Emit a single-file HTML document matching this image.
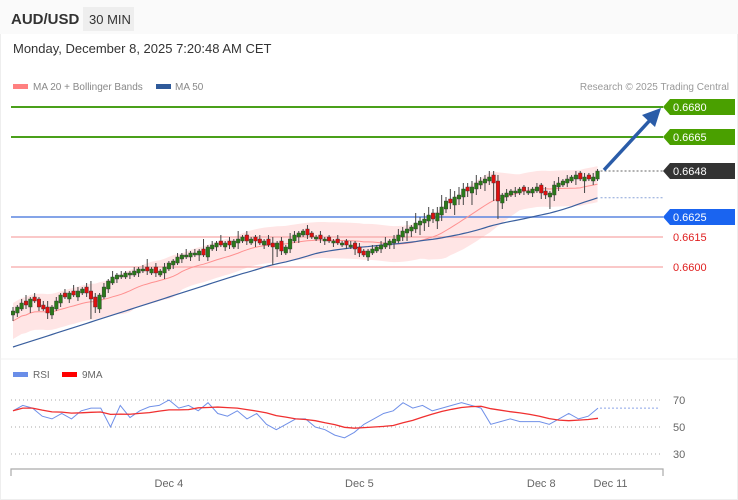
<!DOCTYPE html>
<html><head><meta charset="utf-8"><style>
body{margin:0;background:#fff;font-family:"Liberation Sans",sans-serif;}
#wrap{position:relative;width:738px;height:500px;overflow:hidden;background:#fff;}
svg text{font-family:"Liberation Sans",sans-serif;}
</style></head><body>
<div id="wrap">
<svg id="svg" width="738" height="500" xmlns="http://www.w3.org/2000/svg">
  <rect x="0.5" y="0.5" width="737" height="499" fill="#fff" stroke="#eee"/>
  <rect x="0" y="0" width="738" height="34" fill="#fafafa"/>
  <text x="11" y="24" font-size="15" font-weight="bold" fill="#333">AUD/USD</text>
  <rect x="83" y="7" width="51" height="24" fill="#eeeeee"/>
  <text x="89" y="24" font-size="13" fill="#333">30 MIN</text>
  <text x="13" y="53" font-size="13" fill="#333">Monday, December 8, 2025 7:20:48 AM CET</text>
  <rect x="13" y="84" width="15" height="5" fill="#ff8080"/>
  <text x="33" y="90" font-size="10" fill="#888">MA 20 + Bollinger Bands</text>
  <rect x="156" y="84" width="15" height="5" fill="#2f5a9a"/>
  <text x="175" y="90" font-size="10" fill="#888">MA 50</text>
  <text x="729" y="90" font-size="10" fill="#999" text-anchor="end">Research © 2025 Trading Central</text>
  <line x1="0" y1="359" x2="738" y2="359" stroke="#f0f0f0"/>
  <rect x="13" y="372" width="15" height="5" fill="#6a8ee8"/>
  <text x="33" y="378" font-size="10" fill="#666">RSI</text>
  <rect x="62" y="372" width="15" height="5" fill="#ff0000"/>
  <text x="82" y="378" font-size="10" fill="#666">9MA</text>
  <g id="price"></g>
  <g id="rsi"></g>
  <g id="axis"></g>
</svg>
</div>
<script>
// price closes in pips above 0.6500
const closes=[78,80,82,81,84,83,80,79,77,80,83,86,85,87,86,88,89,87,84,80,86,90,93,95,96,96,97,97,98,99,99,98,99,97,98,100,102,103,105,106,106,107,107,108,106,110,111,112,111,112,111,113,114,115,113,114,113,112,113,111,110,112,108,110,114,116,117,118,116,115,115,114,114,113,113,112,112,111,111,109,107,106,108,109,110,111,112,113,114,116,118,119,120,122,123,124,126,124,127,130,133,132,135,136,139,138,140,142,143,144,145,142,133,136,137,138,138,139,138,138,139,140,137,136,137,141,142,143,144,145,146,144,145,144,145,148];
const wickUp=[2,1,2,3,1,2,1,2,3,1,2,1,2,1,3,2,1,2,5,2,1,2,1,3,1,2,1,1,2,1,2,4,1,2,1,2,1,1,2,1,3,1,2,1,5,1,2,1,3,1,2,1,4,1,2,1,1,2,1,2,3,1,2,1,3,2,1,1,2,1,1,2,1,1,1,2,1,1,2,1,2,1,1,2,1,2,3,1,2,3,2,4,1,5,2,3,4,2,3,6,2,5,3,4,3,2,3,4,2,2,3,2,3,1,2,1,2,1,1,2,1,2,1,2,1,2,3,1,2,1,2,1,2,1,2,1];
const wickDn=[3,2,1,2,3,1,2,1,3,2,1,2,1,2,1,2,1,2,10,3,2,1,2,1,2,1,1,2,1,2,1,2,1,2,1,3,1,2,1,2,1,2,1,3,1,2,1,2,1,2,2,1,3,1,2,1,3,1,2,1,9,4,2,1,2,1,3,1,2,1,1,2,2,1,2,1,1,2,1,3,2,1,2,1,1,2,1,2,3,1,2,4,3,2,5,4,3,2,4,3,2,3,5,3,4,3,6,3,2,4,2,9,9,3,2,1,2,1,2,1,2,1,3,2,6,3,2,1,2,1,3,1,6,1,2,1];
const ma50Start=60;
const levelsPrice=[0.6680,0.6665,0.6648,0.6625,0.6615,0.6600];
const levelLabels=["0.6680","0.6665","0.6648","0.6625","0.6615","0.6600"];
const rsiVals=[62,66,64,58,56,60,56,62,64,64,50,66,57,62,65,66,70,64,66,62,68,60,58,62,56,60,52,48,52,56,56,50,48,44,42,46,52,56,60,62,68,64,66,62,64,66,68,66,64,52,54,56,54,54,54,52,56,60,56,58,64];
const rsiTicks=[70,50,30];
const dateLabels=["Dec 4","Dec 5","Dec 8","Dec 11"];
const dateIdx=[36,80,122,138];

const NS="http://www.w3.org/2000/svg";
function mk(tag,attrs,parent){const e=document.createElementNS(NS,tag);for(const k in attrs)e.setAttribute(k,attrs[k]);parent.appendChild(e);return e;}
const X0=13,DX=4.33;
const xs=i=>X0+i*DX;
const yP=p=>107+(0.6680-p)*20000;
const yPip=v=>yP(0.65+v/10000);
const P=document.getElementById('price'),R=document.getElementById('rsi'),A=document.getElementById('axis');

const ma20=[],up=[],dn=[],ma50=[];
const mean=a=>a.reduce((x,y)=>x+y,0)/a.length;
const v50=mean(closes.slice(1,51));
closes.forEach((c,i)=>{
  const s=closes.slice(Math.max(0,i-19),i+1);const m=mean(s)-(i<20?(20-i)*0.25:0);
  const sd=Math.sqrt(s.reduce((a,b)=>a+(b-m)*(b-m),0)/s.length);
  const w=Math.max(1.8*sd,9);
  ma20.push(m);up.push(m+w);dn.push(m-w);
  ma50.push(i<50?ma50Start+(v50-ma50Start)*i/50:mean(closes.slice(i-49,i+1)));
});
let band=up.map((v,i)=>xs(i)+','+yPip(v)).join(' ')+' '+dn.map((v,i)=>xs(i)+','+yPip(v)).reverse().join(' ');
const bandEl=mk('polygon',{points:band,fill:'#ffdede',opacity:'0.8'},P);



const lvlColors=['#4aa01a','#4aa01a','none','#5b85e0','#f7a8a8','#f7a8a8'];
levelsPrice.forEach((p,k)=>{
  if(lvlColors[k]==='none')return;
  const ln=mk('line',{x1:11,x2:663,y1:yP(p),y2:yP(p),stroke:lvlColors[k],'stroke-width':k<2?2:(k==3?1.5:1.2)},P);
  
  
});

const ma20El=mk('polyline',{points:ma20.map((v,i)=>xs(i)+','+yPip(v)).join(' '),fill:'none',stroke:'#ff9090','stroke-width':1},P);


const ma50El=mk('polyline',{points:ma50.map((v,i)=>xs(i)+','+yPip(v)).join(' '),fill:'none',stroke:'#3a5f9e','stroke-width':1.2},P);



closes.forEach((c,i)=>{
  const o=i?closes[i-1]+(c>=closes[i-1]?-1:1):c-2;const hi=Math.max(o,c)+wickUp[i],lo=Math.min(o,c)-wickDn[i];
  const g=mk('g',{},P);
  
  
  mk('line',{x1:xs(i),x2:xs(i),y1:yPip(hi),y2:yPip(lo),stroke:'#444','stroke-width':1},g);
  const top=yPip(Math.max(o,c)),h=Math.max(1.5,yPip(Math.min(o,c))-top);
  mk('rect',{x:xs(i)-1.8,y:top,width:3.6,height:h,fill:c>=o?'#2a7a1a':'#e01010',stroke:'#333','stroke-width':0.4},g);
});
const last=closes.length-1;
const d1=mk('line',{x1:xs(last)+3,x2:663,y1:yPip(closes[last]),y2:yPip(closes[last]),stroke:'#666','stroke-dasharray':'2,2','stroke-width':1},P);


const d2=mk('line',{x1:xs(last)+3,x2:663,y1:yPip(ma50[last]),y2:yPip(ma50[last]),stroke:'#8aa4d8','stroke-dasharray':'2,2','stroke-width':1},P);



const arr=mk('g',{},P);


mk('line',{x1:604,y1:170,x2:652,y2:118,stroke:'#2a5ca8','stroke-width':3.5},arr);
mk('polygon',{points:'661,108 642,115 655,127',fill:'#2a5ca8'},arr);

const tagBg=['#4aa000','#4aa000','#333333','#1a64f0',null,null];
levelsPrice.forEach((p,k)=>{
  const y=yP(p);const g=mk('g',{},P);
  
  
  if(tagBg[k])mk('polygon',{points:`663,${y} 670,${y-8} 735,${y-8} 735,${y+8} 670,${y+8}`,fill:tagBg[k]},g);
  const t=mk('text',{x:673,y:y+4,'font-size':11,fill:tagBg[k]?'#fff':'#e02020'},g);t.textContent=levelLabels[k];
});

const yR=v=>427-(v-50)*1.35;
const rdx=(598-13)/(rsiVals.length-1);
rsiTicks.forEach(t=>{
  const l=mk('line',{x1:11,x2:663,y1:yR(t),y2:yR(t),stroke:'#aaa','stroke-dasharray':'1,3'},R);
  
  
  const tx=mk('text',{x:673,y:yR(t)+4,'font-size':11,fill:'#666'},R);tx.textContent=t;
  
  
});
const rsiEl=mk('polyline',{points:rsiVals.map((v,i)=>(13+i*rdx)+','+yR(v)).join(' '),fill:'none',stroke:'#7090e8','stroke-width':1},R);


const ma9=rsiVals.map((v,i)=>{const s=rsiVals.slice(Math.max(0,i-8),i+1);return s.reduce((a,b)=>a+b,0)/s.length;});
const ma9El=mk('polyline',{points:ma9.map((v,i)=>(13+i*rdx)+','+yR(v)).join(' '),fill:'none',stroke:'#f03030','stroke-width':1.3},R);


const rd=mk('line',{x1:600,x2:660,y1:yR(rsiVals[rsiVals.length-1]),y2:yR(rsiVals[rsiVals.length-1]),stroke:'#8aa4e8','stroke-dasharray':'2,2'},R);



mk('path',{d:'M11,476 V469 H663 V476',fill:'none',stroke:'#aaa','stroke-width':1.2},A);
dateLabels.forEach((d,k)=>{
  const t=mk('text',{x:xs(dateIdx[k]),y:487,'font-size':11,fill:'#666','text-anchor':'middle'},A);t.textContent=d;
  
  
});
</script>
</body></html>
